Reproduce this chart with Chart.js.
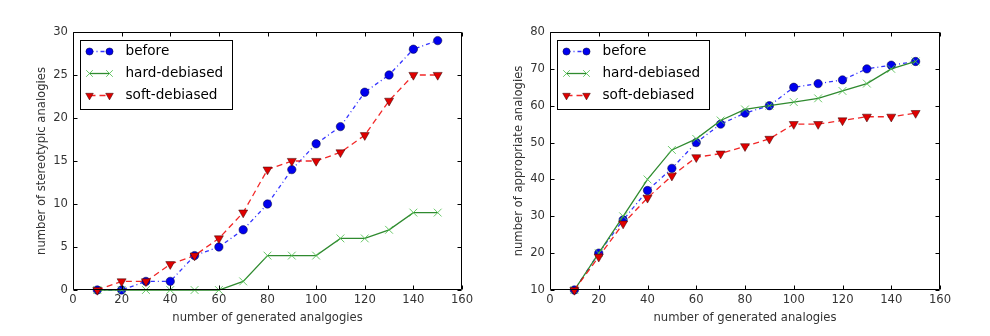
<!DOCTYPE html>
<html><head><meta charset="utf-8">
<script src="https://cdn.jsdelivr.net/npm/chart.js@4.4.1/dist/chart.umd.min.js"></script>
<style>
html,body{margin:0;padding:0;background:#fff;}
#wrap{position:relative;width:990px;height:336px;overflow:hidden;}
.c{position:absolute;top:0;width:495px;height:336px;}
</style></head><body>
<div id="wrap">
<div class="c" style="left:0"><canvas id="left" width="495" height="336"></canvas></div>
<div class="c" style="left:495px"><canvas id="right" width="495" height="336"></canvas></div>
</div>
<script>
// ---- data ----
const generated = [10, 20, 30, 40, 50, 60, 70, 80, 90, 100, 110, 120, 130, 140, 150];
const seriesLabels = ['before', 'hard-debiased', 'soft-debiased'];

const stereoBefore = [0, 0, 1, 1, 4, 5, 7, 10, 14, 17, 19, 23, 25, 28, 29];
const stereoHard   = [0, 0, 0, 0, 0, 0, 1, 4, 4, 4, 6, 6, 7, 9, 9];
const stereoSoft   = [0, 1, 1, 3, 4, 6, 9, 14, 15, 15, 16, 18, 22, 25, 25];

const apprBefore = [10, 20, 29, 37, 43, 50, 55, 58, 60, 65, 66, 67, 70, 71, 72];
const apprHard   = [10, 20, 30, 40, 48, 51, 56, 59, 60, 61, 62, 64, 66, 70, 72];
const apprSoft   = [10, 19, 28, 35, 41, 46, 47, 49, 51, 55, 55, 56, 57, 57, 58];

const xTicks = [0, 20, 40, 60, 80, 100, 120, 140, 160];
const leftYTicks = [0, 5, 10, 15, 20, 25, 30];
const rightYTicks = [10, 20, 30, 40, 50, 60, 70, 80];

const leftTitles = { x: 'number of generated analgogies', y: 'number of stereotypic analogies' };
const rightTitles = { x: 'number of generated analogies', y: 'number of appropriate analogies' };

// ---- styles ----
const FONT = 'DejaVu Sans';
const TXT = '#333';
const AXFS = 11.6;
const styles = [
  { borderColor: 'rgba(0,0,255,0.8)', borderDash: [4, 3, 1, 3], pointStyle: 'circle', pointRadius: 4.2,
    pointBackgroundColor: '#0000ee', pointBorderColor: '#000033', pointBorderWidth: 0.5, pointRotation: 0 },
  { borderColor: '#2f8a2f', borderDash: [], pointStyle: 'crossRot', pointRadius: 5.5,
    pointBackgroundColor: 'rgba(80,190,80,0.8)', pointBorderColor: 'rgba(80,190,80,0.85)', pointBorderWidth: 1, pointRotation: 0 },
  { borderColor: 'rgba(240,0,0,0.85)', borderDash: [6, 4], pointStyle: 'triangle', pointRadius: 5.2,
    pointBackgroundColor: '#e00000', pointBorderColor: '#330000', pointBorderWidth: 0.5, pointRotation: 180 }
];

function makeDatasets(series) {
  return series.map((vals, i) => Object.assign({
    label: seriesLabels[i],
    data: generated.map((g, k) => ({ x: g, y: vals[k] })),
    borderWidth: 1.3,
    fill: false,
    tension: 0,
    clip: false,
    order: 3 - i
  }, styles[i]));
}

function drawMarker(ctx, st, x, y) {
  ctx.save();
  const r = st.pointRadius;
  ctx.setLineDash([]);
  ctx.lineWidth = st.pointBorderWidth;
  ctx.fillStyle = st.pointBackgroundColor;
  ctx.strokeStyle = st.pointBorderColor;
  ctx.beginPath();
  if (st.pointStyle === 'circle') {
    ctx.arc(x, y, r, 0, Math.PI * 2);
    ctx.fill(); ctx.stroke();
  } else if (st.pointStyle === 'triangle') {
    const a = r * Math.sin(Math.PI / 3);
    ctx.moveTo(x - a, y - r * 0.5);
    ctx.lineTo(x + a, y - r * 0.5);
    ctx.lineTo(x, y + r);
    ctx.closePath();
    ctx.fill(); ctx.stroke();
  } else {
    const d = r * Math.SQRT1_2;
    ctx.moveTo(x - d, y - d); ctx.lineTo(x + d, y + d);
    ctx.moveTo(x - d, y + d); ctx.lineTo(x + d, y - d);
    ctx.stroke();
  }
  ctx.restore();
}

const framePlugin = {
  id: 'frameTicks',
  afterDatasetsDraw(chart) {
    const { ctx, chartArea: a, scales } = chart;
    ctx.save();
    ctx.strokeStyle = '#000';
    ctx.lineWidth = 1;
    ctx.setLineDash([]);
    const L = Math.round(a.left) + 0.5, R = Math.round(a.right) - 0.5;
    const T = Math.round(a.top) + 0.5, B = Math.round(a.bottom) - 0.5;
    ctx.beginPath();
    ctx.rect(L, T, R - L, B - T);
    ctx.stroke();
    const tl = 4;
    ctx.beginPath();
    scales.x.ticks.forEach(t => {
      const px = Math.round(scales.x.getPixelForValue(t.value)) + 0.5;
      ctx.moveTo(px, B); ctx.lineTo(px, B - tl);
      ctx.moveTo(px, T); ctx.lineTo(px, T + tl);
    });
    scales.y.ticks.forEach(t => {
      const py = Math.round(scales.y.getPixelForValue(t.value)) + 0.5;
      ctx.moveTo(L, py); ctx.lineTo(L + tl, py);
      ctx.moveTo(R, py); ctx.lineTo(R - tl, py);
    });
    ctx.stroke();
    ctx.restore();
  }
};

const legendPlugin = {
  id: 'mplLegend',
  afterDraw(chart) {
    const { ctx, chartArea: a } = chart;
    const x0 = Math.round(a.left) + 7.5, y0 = Math.round(a.top) + 8.5;
    const w = 152, h = 69;
    ctx.save();
    ctx.fillStyle = '#fff';
    ctx.fillRect(x0, y0, w, h);
    ctx.strokeStyle = '#000';
    ctx.lineWidth = 1;
    ctx.strokeRect(x0, y0, w, h);
    chart.data.datasets.forEach((ds, i) => {
      const y = y0 + 11 + i * 22;
      const xa = x0 + 9, xb = x0 + 29;
      ctx.save();
      ctx.strokeStyle = ds.borderColor;
      ctx.lineWidth = 1.3;
      ctx.setLineDash(ds.borderDash || []);
      ctx.beginPath();
      ctx.moveTo(xa, y); ctx.lineTo(xb, y);
      ctx.stroke();
      ctx.restore();
      const st = Object.assign({}, ds, { pointRadius: ds.pointRadius * 0.85 });
      drawMarker(ctx, st, xa, y);
      drawMarker(ctx, st, xb, y);
      ctx.fillStyle = '#000';
      ctx.font = '13.6px "' + FONT + '"';
      ctx.textBaseline = 'middle';
      ctx.textAlign = 'left';
      ctx.fillText(ds.label, x0 + 45, y);
    });
    ctx.restore();
  }
};

function makeChart(id, series, yTicks, titles, yAxisWidth, rightPad, yTitlePad) {
  return new Chart(document.getElementById(id), {
    type: 'line',
    data: { datasets: makeDatasets(series) },
    options: {
      responsive: false,
      animation: false,
      events: [],
      layout: { padding: { left: 0, right: rightPad, top: 32, bottom: 0 } },
      plugins: { legend: { display: false }, tooltip: { enabled: false } },
      scales: {
        x: {
          type: 'linear',
          min: xTicks[0], max: xTicks[xTicks.length - 1],
          afterBuildTicks(s) { s.ticks = xTicks.map(v => ({ value: v })); },
          afterFit(s) { s.height = 46; },
          grid: { display: false, drawTicks: false },
          border: { display: false },
          ticks: { padding: 3, color: TXT, font: { family: FONT, size: AXFS }, maxRotation: 0, autoSkip: false },
          title: { display: true, text: titles.x, color: TXT, font: { family: FONT, size: AXFS }, padding: { top: 0, bottom: 11 } }
        },
        y: {
          type: 'linear',
          min: yTicks[0], max: yTicks[yTicks.length - 1],
          afterBuildTicks(s) { s.ticks = yTicks.map(v => ({ value: v })); },
          afterFit(s) { s.width = yAxisWidth; },
          grid: { display: false, drawTicks: false },
          border: { display: false },
          ticks: { padding: 5, color: TXT, font: { family: FONT, size: AXFS }, autoSkip: false },
          title: { display: true, text: titles.y, color: TXT, font: { family: FONT, size: AXFS }, padding: { top: yTitlePad, bottom: 0 } }
        }
      }
    },
    plugins: [framePlugin, legendPlugin]
  });
}

makeChart('left', [stereoBefore, stereoHard, stereoSoft], leftYTicks, leftTitles, 73, 33, 35);
makeChart('right', [apprBefore, apprHard, apprSoft], rightYTicks, rightTitles, 55, 50, 17);
</script>
</body></html>
